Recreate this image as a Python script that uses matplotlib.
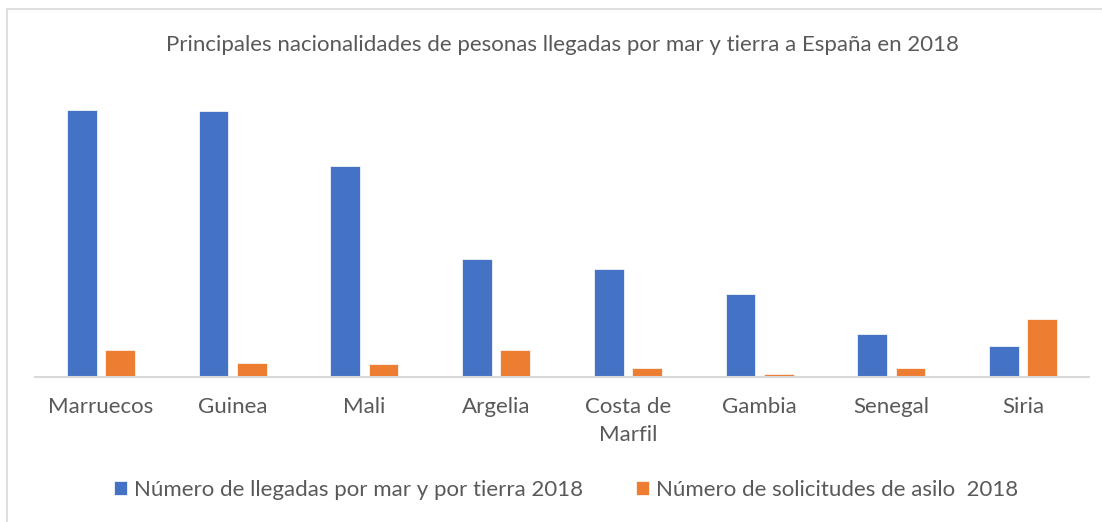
"""
llegadas por mar y tierra a España 2018 vs solicitudes de asilo, barras agrupadas
"""

import matplotlib.pyplot as plt
import matplotlib.patches as patches
import numpy as np

paises = ['Marruecos', 'Guinea', 'Mali', 'Argelia', 'Costa de\nMarfil',
          'Gambia', 'Senegal', 'Siria']
llegadas = [13170, 13140, 10420, 5840, 5300, 4060, 2080, 1530]
solicitudes = [1290, 690, 640, 1310, 400, 100, 400, 2870]

serie_llegadas = 'Número de llegadas por mar y por tierra 2018'
serie_solicitudes = 'Número de solicitudes de asilo  2018'

AZUL = '#4472C4'
NARANJA = '#ED7D31'
GRIS_TEXTO = '#595959'
GRIS_LINEA = '#D9D9D9'

plt.rcParams['font.family'] = ['Lato', 'DejaVu Sans']

W, H = 1102, 522
fig = plt.figure(figsize=(W / 100, H / 100), dpi=100)

# borde del gráfico (solo se ven izquierda y arriba)
fig.patches.append(patches.Rectangle((7 / W, -0.1), 1.2, 1 - 9 / H + 0.1,
                                     transform=fig.transFigure, fill=False,
                                     edgecolor=GRIS_LINEA, linewidth=1.2))

# área de trazado en píxeles
left, right, bottom, top = 35, 1089, 376.5, 93.7
ax = fig.add_axes([left / W, 1 - bottom / H, (right - left) / W, (bottom - top) / H])

x = np.arange(len(paises))
ancho = 0.225
ax.bar(x - 0.145, llegadas, ancho, color=AZUL, edgecolor='white', linewidth=0.5,
       label=serie_llegadas)
ax.bar(x + 0.145, solicitudes, ancho, color=NARANJA, edgecolor='white', linewidth=0.5,
       label=serie_solicitudes)

ax.set_xlim(-0.5, len(paises) - 0.5)
ax.set_ylim(0, 14000)
ax.set_yticks([])
ax.set_xticks(x)
ax.set_xticklabels(paises, fontsize=16, color=GRIS_TEXTO, linespacing=1.5)
ax.tick_params(axis='x', length=0, pad=15)
for s in ['top', 'right', 'left']:
    ax.spines[s].set_visible(False)
ax.spines['bottom'].set_color(GRIS_LINEA)
ax.spines['bottom'].set_linewidth(1.5)

fig.text(562 / W, 1 - 45 / H, 'Principales nacionalidades de pesonas llegadas por mar y tierra a España en 2018',
         ha='center', va='center', fontsize=16, color=GRIS_TEXTO)

fig.legend(loc='center', bbox_to_anchor=(566 / W, 1 - 490 / H), ncol=2, frameon=False,
           fontsize=16, labelcolor=GRIS_TEXTO, handlelength=0.6, handleheight=0.6,
           handletextpad=0.28, columnspacing=2.4)

plt.savefig('out.png', dpi=100)
plt.close()
